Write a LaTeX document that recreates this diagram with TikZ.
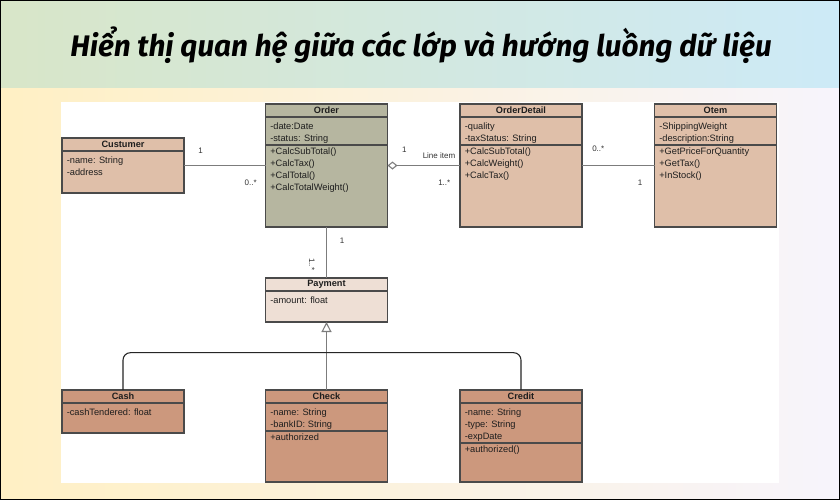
\documentclass[tikz,border=0pt]{standalone}
\usepackage{fontspec}
\setmainfont{Liberation Sans}
\newfontfamily\titlefont{Fira Sans}
\usetikzlibrary{arrows.meta,calc}
\definecolor{orderfill}{HTML}{B6B6A0}
\definecolor{tanfill}{HTML}{DFBFA9}
\definecolor{payfill}{HTML}{EEDFD5}
\definecolor{subfill}{HTML}{CC987D}
\definecolor{boxline}{HTML}{4A4A4A}
\definecolor{textc}{HTML}{1E1E1E}
\definecolor{lblc}{HTML}{333333}
\definecolor{assocc}{HTML}{7C7C7C}
\definecolor{topL}{HTML}{D8E6C8}
\definecolor{topM}{HTML}{D0E8DE}
\definecolor{topR}{HTML}{CDEAF7}
\definecolor{botL}{HTML}{FFF0C4}
\definecolor{botM}{HTML}{F4F2E4}
\definecolor{botR}{HTML}{F7F4FC}
\tikzset{
  classbox/.style={draw=boxline, line width=0.9pt, rectangle, inner sep=0pt, outer sep=0pt, minimum width=91.5pt},
  sepline/.style={draw=boxline, line width=0.9pt},
  ctitle/.style={font=\fontsize{6.9}{8}\selectfont\bfseries, text=textc, inner sep=0pt},
  cline/.style={font=\fontsize{6.95}{8}\selectfont, text=textc, inner sep=0pt, anchor=base west},
  lbl/.style={font=\fontsize{6}{7}\selectfont, text=lblc, inner sep=0pt},
  assoc/.style={draw=assocc, line width=0.9pt},
  genline/.style={draw=assocc, line width=0.9pt},
  busline/.style={draw=black!85, line width=0.8pt},
}
% #1 name, #2 x, #3 y, #4 height (px), #5 fill, #6 title
\newcommand\umlclass[6]{%
  \node[classbox, fill=#5, minimum height=#4*0.75pt, anchor=north west] (#1) at (#2,#3) {};
  \draw[sepline] ($(#1.north west)+(0,13)$) -- ($(#1.north east)+(0,13)$);
  \node[ctitle] (#1-title) at ($(#1.north)+(0,6.5)$) {#6};
}
% #1 name, #2 tag, #3 first baseline offset from top, #4 list
\newcommand\umllines[4]{%
  \foreach \t [count=\i from 0] in {#4}
    \node[cline] (#1-#2-\i) at ($(#1.north west)+(4.5,#3+12*\i)$) {\t};
}
% #1 name, #2 offset from top
\newcommand\umlsep[2]{%
  \draw[sepline] ($(#1.north west)+(0,#2)$) -- ($(#1.north east)+(0,#2)$);
}
\begin{document}
\begin{tikzpicture}[x=0.75pt,y=-0.75pt]
\useasboundingbox (0,0) rectangle (840,500);
% backgrounds
\shade[left color=topL, middle color=topM, right color=topR] (0,0) rectangle (840,88);
\shade[left color=botL, middle color=botM, right color=botR] (0,88) rectangle (840,500);
\fill[white] (61,102) rectangle (779,483);
\draw[black, line width=1.6pt] (0,0) rectangle (840,500);
% title
\node[inner sep=0pt, text=black] (title) at (421,45)
  {\resizebox{526pt}{!}{\titlefont\bfseries\itshape Hiển thị quan hệ giữa các lớp và hướng luồng dữ liệu}};
% classes
\umlclass{cust}{62}{138}{55}{tanfill}{Custumer}
\umllines{cust}{a}{25}{-name: String,-address}

\umlclass{order}{265.5}{104}{123}{orderfill}{Order}
\umllines{order}{a}{25}{-date:Date,-status: String}
\umlsep{order}{41}
\umllines{order}{m}{50.3}{+CalcSubTotal(),+CalcTax(),+CalTotal(),+CalcTotalWeight()}

\umlclass{odetail}{460}{104}{123}{tanfill}{OrderDetail}
\umllines{odetail}{a}{25}{-quality,-taxStatus: String}
\umlsep{odetail}{41}
\umllines{odetail}{m}{50.3}{+CalcSubTotal(),+CalcWeight(),+CalcTax()}

\umlclass{otem}{654.5}{104}{123}{tanfill}{Otem}
\umllines{otem}{a}{25}{-ShippingWeight,-description:String}
\umlsep{otem}{41}
\umllines{otem}{m}{50.3}{+GetPriceForQuantity,+GetTax(),+InStock()}

\umlclass{payment}{265.5}{278}{44}{payfill}{Payment}
\umllines{payment}{a}{25}{-amount: float}

\umlclass{cash}{62}{390}{43}{subfill}{Cash}
\umllines{cash}{a}{25}{-cashTendered: float}

\umlclass{check}{265.5}{390}{92}{subfill}{Check}
\umllines{check}{a}{25}{-name: String,-bankID: String}
\umlsep{check}{41}
\umllines{check}{m}{50.3}{+authorized}

\umlclass{credit}{460}{390}{92}{subfill}{Credit}
\umllines{credit}{a}{25}{-name: String,-type: String,-expDate}
\umlsep{credit}{53}
\umllines{credit}{m}{62.3}{+authorized()}

% connectors
\draw[assoc] (cust.east) -- (order.west);
\draw[assoc, {Diamond[open, length=7.5pt, width=6pt, line width=0.8pt]}-] (order.east) -- (odetail.west);
\draw[assoc] (odetail.east) -- (otem.west);
\draw[assoc] (order.south) -- (payment.north);
\draw[genline, -{Triangle[open, length=7.5pt, width=7.5pt, line width=0.8pt]}] (check.north) -- (payment.south);
\coordinate (bus) at (326.5,352.7);
\draw[busline, rounded corners=5.5pt] (cash.north) |- (bus) -| (credit.north);
% labels
\node[lbl] (l1) at (200.7,150.7) {1};
\node[lbl] (l2) at (250.7,182.3) {0..*};
\node[lbl] (l3) at (404.3,149.3) {1};
\node[lbl] (l4) at (439,156) {Line item};
\node[lbl] (l5) at (444.3,182.7) {1..*};
\node[lbl] (l6) at (598.3,148.3) {0..*};
\node[lbl] (l7) at (640,182.7) {1};
\node[lbl] (l8) at (342,241) {1};
\node[lbl, rotate=-90] (l9) at (311.8,264.3) {1..*};
\end{tikzpicture}
\end{document}
